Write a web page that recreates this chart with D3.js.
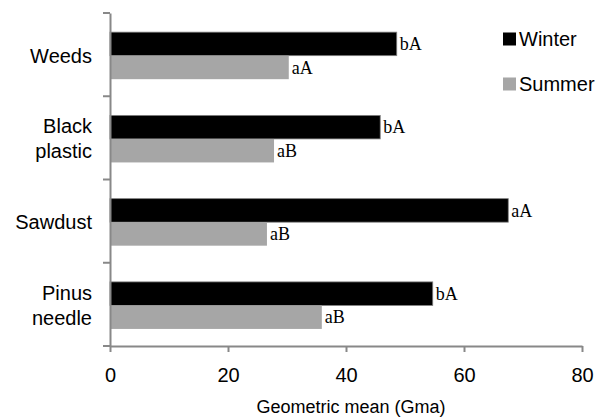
<!DOCTYPE html>
<html><head><meta charset="utf-8">
<script src="https://cdn.jsdelivr.net/npm/d3@7"></script>
<style>
body{margin:0;background:#fff;}
svg{display:block;}
</style></head>
<body><svg id="c" width="611" height="417"></svg>
<script>
const categories = ["Weeds", "Black plastic", "Sawdust", "Pinus needle"];
const categoryLines = [["Weeds"], ["Black", "plastic"], ["Sawdust"], ["Pinus", "needle"]];
const seriesNames = ["Winter", "Summer"];
const winterValues = [48.6, 45.8, 67.5, 54.7];
const summerValues = [30.3, 27.8, 26.6, 35.9];
const winterLabels = ["bA", "bA", "aA", "bA"];
const summerLabels = ["aA", "aB", "aB", "aB"];
const xTicks = [0, 20, 40, 60, 80];
const xTitle = "Geometric mean (Gma)";

const colors = {Winter: "#000000", Summer: "#a6a6a6"};
const axisColor = "#888888";
const sans = "'Liberation Sans', Arial, sans-serif";
const serif = "'Liberation Serif', 'Times New Roman', serif";

const svg = d3.select("#c");
const x = d3.scaleLinear().domain([0, 80]).range([110, 582]);
const y0 = d3.scaleBand().domain(categories).range([13, 346]).padding(0);
const y1 = d3.scaleBand().domain(seriesNames).range([y0.bandwidth() * 0.23, y0.bandwidth() * 0.795]).padding(0);

const rows = categories.map((c, i) => ({
  cat: c,
  vals: [
    {s: "Winter", v: winterValues[i], lab: winterLabels[i]},
    {s: "Summer", v: summerValues[i], lab: summerLabels[i]}
  ]
}));

// bars
const g = svg.append("g");
rows.forEach(r => {
  r.vals.forEach(d => {
    const yy = y0(r.cat) + y1(d.s);
    g.append("rect")
      .attr("x", x(0)).attr("y", yy)
      .attr("width", x(d.v) - x(0)).attr("height", y1.bandwidth())
      .attr("fill", colors[d.s])
      .attr("stroke", d.s === "Winter" ? "#7f7f7f" : "none")
      .attr("stroke-width", 0.8);
    g.append("text")
      .attr("x", x(d.v) + 3).attr("y", yy + y1.bandwidth() / 2)
      .attr("dy", "0.35em")
      .attr("font-family", serif).attr("font-size", 18)
      .attr("fill", "#000")
      .text(d.lab);
  });
});

// x axis
const xAxis = svg.append("g").attr("transform", `translate(0,346)`)
  .call(d3.axisBottom(x).tickValues(xTicks).tickSize(6).tickSizeOuter(0).tickPadding(16));
xAxis.select(".domain").attr("stroke", axisColor).attr("stroke-width", 2);
xAxis.selectAll(".tick line").attr("stroke", axisColor).attr("stroke-width", 2);
xAxis.selectAll(".tick text").attr("font-family", sans).attr("font-size", 20).attr("fill", "#000");

// y axis
const yAxis = svg.append("g").attr("transform", `translate(110,0)`)
  .call(d3.axisLeft(y0).tickSize(0).tickSizeOuter(0).tickFormat(""));
yAxis.select(".domain").attr("stroke", axisColor).attr("stroke-width", 2);
const bounds = categories.map(c => y0(c)).concat([y0(categories[categories.length - 1]) + y0.bandwidth()]);
yAxis.selectAll(".bound").data(bounds).enter().append("line")
  .attr("x1", -7).attr("x2", 0).attr("y1", d => d).attr("y2", d => d)
  .attr("stroke", axisColor).attr("stroke-width", 2);

// category labels
categories.forEach((c, i) => {
  const lines = categoryLines[i];
  const cy = y0(c) + y0.bandwidth() / 2 + 1;
  const lh = 25;
  const t = svg.append("text")
    .attr("text-anchor", "end")
    .attr("font-family", sans).attr("font-size", 20).attr("fill", "#000");
  lines.forEach((ln, k) => {
    t.append("tspan").attr("x", 92)
      .attr("y", cy + (k - (lines.length - 1) / 2) * lh)
      .attr("dy", "0.35em").text(ln);
  });
});

// x title
svg.append("text")
  .attr("x", (x(0) + x(80)) / 2 + 5).attr("y", 407).attr("dy", "0.35em")
  .attr("text-anchor", "middle")
  .attr("font-family", sans).attr("font-size", 18).attr("fill", "#000")
  .text(xTitle);

// legend
const leg = svg.append("g");
seriesNames.forEach((s, i) => {
  const ly = 39 + i * 45;
  leg.append("rect").attr("x", 503).attr("y", ly - 6.5).attr("width", 13).attr("height", 13)
    .attr("fill", colors[s]);
  leg.append("text").attr("x", 519).attr("y", ly).attr("dy", "0.35em")
    .attr("font-family", sans).attr("font-size", 20).attr("fill", "#000").text(s);
});
</script>
</body></html>
